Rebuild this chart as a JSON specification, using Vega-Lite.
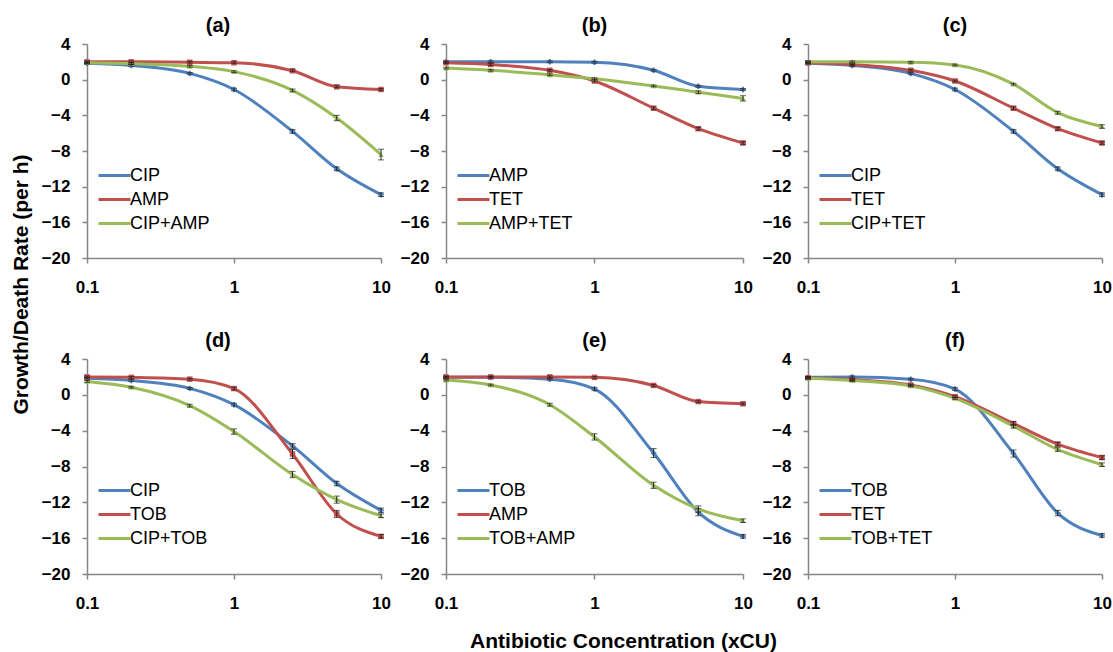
{
  "$schema": "https://vega.github.io/schema/vega-lite/v6.json",
  "background": "white",
  "padding": {"left": 10, "top": 16, "right": 5, "bottom": 5},
  "data": {"values": [
    {"p":"a","s":"CIP","x":0.1,"y":1.85,"e":0.1},{"p":"a","s":"CIP","x":0.2,"y":1.6,"e":0.1},{"p":"a","s":"CIP","x":0.5,"y":0.7,"e":0.1},{"p":"a","s":"CIP","x":1,"y":-1.1,"e":0.15},{"p":"a","s":"CIP","x":2.5,"y":-5.8,"e":0.2},{"p":"a","s":"CIP","x":5,"y":-10.0,"e":0.2},{"p":"a","s":"CIP","x":10,"y":-12.9,"e":0.2},
    {"p":"a","s":"AMP","x":0.1,"y":2.0,"e":0.1},{"p":"a","s":"AMP","x":0.2,"y":2.0,"e":0.1},{"p":"a","s":"AMP","x":0.5,"y":1.95,"e":0.1},{"p":"a","s":"AMP","x":1,"y":1.9,"e":0.1},{"p":"a","s":"AMP","x":2.5,"y":1.0,"e":0.1},{"p":"a","s":"AMP","x":5,"y":-0.8,"e":0.1},{"p":"a","s":"AMP","x":10,"y":-1.1,"e":0.1},
    {"p":"a","s":"CIP+AMP","x":0.1,"y":1.9,"e":0.1},{"p":"a","s":"CIP+AMP","x":0.2,"y":1.8,"e":0.1},{"p":"a","s":"CIP+AMP","x":0.5,"y":1.5,"e":0.1},{"p":"a","s":"CIP+AMP","x":1,"y":0.9,"e":0.1},{"p":"a","s":"CIP+AMP","x":2.5,"y":-1.2,"e":0.15},{"p":"a","s":"CIP+AMP","x":5,"y":-4.3,"e":0.3},{"p":"a","s":"CIP+AMP","x":10,"y":-8.4,"e":0.6},
    {"p":"b","s":"AMP","x":0.1,"y":2.0,"e":0.1},{"p":"b","s":"AMP","x":0.2,"y":2.0,"e":0.1},{"p":"b","s":"AMP","x":0.5,"y":2.0,"e":0.1},{"p":"b","s":"AMP","x":1,"y":1.95,"e":0.1},{"p":"b","s":"AMP","x":2.5,"y":1.05,"e":0.1},{"p":"b","s":"AMP","x":5,"y":-0.75,"e":0.1},{"p":"b","s":"AMP","x":10,"y":-1.1,"e":0.1},
    {"p":"b","s":"TET","x":0.1,"y":1.9,"e":0.1},{"p":"b","s":"TET","x":0.2,"y":1.7,"e":0.1},{"p":"b","s":"TET","x":0.5,"y":1.05,"e":0.1},{"p":"b","s":"TET","x":1,"y":-0.15,"e":0.1},{"p":"b","s":"TET","x":2.5,"y":-3.2,"e":0.15},{"p":"b","s":"TET","x":5,"y":-5.5,"e":0.15},{"p":"b","s":"TET","x":10,"y":-7.1,"e":0.15},
    {"p":"b","s":"AMP+TET","x":0.1,"y":1.3,"e":0.1},{"p":"b","s":"AMP+TET","x":0.2,"y":1.05,"e":0.1},{"p":"b","s":"AMP+TET","x":0.5,"y":0.55,"e":0.1},{"p":"b","s":"AMP+TET","x":1,"y":0.1,"e":0.1},{"p":"b","s":"AMP+TET","x":2.5,"y":-0.7,"e":0.1},{"p":"b","s":"AMP+TET","x":5,"y":-1.4,"e":0.15},{"p":"b","s":"AMP+TET","x":10,"y":-2.1,"e":0.3},
    {"p":"c","s":"CIP","x":0.1,"y":1.85,"e":0.1},{"p":"c","s":"CIP","x":0.2,"y":1.6,"e":0.1},{"p":"c","s":"CIP","x":0.5,"y":0.7,"e":0.1},{"p":"c","s":"CIP","x":1,"y":-1.1,"e":0.15},{"p":"c","s":"CIP","x":2.5,"y":-5.8,"e":0.2},{"p":"c","s":"CIP","x":5,"y":-10.0,"e":0.2},{"p":"c","s":"CIP","x":10,"y":-12.9,"e":0.2},
    {"p":"c","s":"TET","x":0.1,"y":1.9,"e":0.1},{"p":"c","s":"TET","x":0.2,"y":1.7,"e":0.1},{"p":"c","s":"TET","x":0.5,"y":1.05,"e":0.1},{"p":"c","s":"TET","x":1,"y":-0.15,"e":0.1},{"p":"c","s":"TET","x":2.5,"y":-3.2,"e":0.15},{"p":"c","s":"TET","x":5,"y":-5.5,"e":0.15},{"p":"c","s":"TET","x":10,"y":-7.1,"e":0.15},
    {"p":"c","s":"CIP+TET","x":0.1,"y":2.0,"e":0.1},{"p":"c","s":"CIP+TET","x":0.2,"y":2.0,"e":0.1},{"p":"c","s":"CIP+TET","x":0.5,"y":1.95,"e":0.1},{"p":"c","s":"CIP+TET","x":1,"y":1.65,"e":0.1},{"p":"c","s":"CIP+TET","x":2.5,"y":-0.5,"e":0.1},{"p":"c","s":"CIP+TET","x":5,"y":-3.7,"e":0.15},{"p":"c","s":"CIP+TET","x":10,"y":-5.25,"e":0.2},
    {"p":"d","s":"CIP","x":0.1,"y":1.85,"e":0.1},{"p":"d","s":"CIP","x":0.2,"y":1.6,"e":0.1},{"p":"d","s":"CIP","x":0.5,"y":0.72,"e":0.1},{"p":"d","s":"CIP","x":1,"y":-1.1,"e":0.15},{"p":"d","s":"CIP","x":2.5,"y":-5.7,"e":0.25},{"p":"d","s":"CIP","x":5,"y":-9.9,"e":0.25},{"p":"d","s":"CIP","x":10,"y":-12.9,"e":0.25},
    {"p":"d","s":"TOB","x":0.1,"y":2.0,"e":0.1},{"p":"d","s":"TOB","x":0.2,"y":1.95,"e":0.1},{"p":"d","s":"TOB","x":0.5,"y":1.75,"e":0.1},{"p":"d","s":"TOB","x":1,"y":0.7,"e":0.15},{"p":"d","s":"TOB","x":2.5,"y":-6.6,"e":0.5},{"p":"d","s":"TOB","x":5,"y":-13.3,"e":0.4},{"p":"d","s":"TOB","x":10,"y":-15.8,"e":0.2},
    {"p":"d","s":"CIP+TOB","x":0.1,"y":1.5,"e":0.1},{"p":"d","s":"CIP+TOB","x":0.2,"y":0.85,"e":0.1},{"p":"d","s":"CIP+TOB","x":0.5,"y":-1.2,"e":0.15},{"p":"d","s":"CIP+TOB","x":1,"y":-4.1,"e":0.3},{"p":"d","s":"CIP+TOB","x":2.5,"y":-8.9,"e":0.35},{"p":"d","s":"CIP+TOB","x":5,"y":-11.7,"e":0.4},{"p":"d","s":"CIP+TOB","x":10,"y":-13.5,"e":0.2},
    {"p":"e","s":"TOB","x":0.1,"y":1.95,"e":0.1},{"p":"e","s":"TOB","x":0.2,"y":1.95,"e":0.1},{"p":"e","s":"TOB","x":0.5,"y":1.75,"e":0.1},{"p":"e","s":"TOB","x":1,"y":0.65,"e":0.15},{"p":"e","s":"TOB","x":2.5,"y":-6.5,"e":0.5},{"p":"e","s":"TOB","x":5,"y":-13.1,"e":0.4},{"p":"e","s":"TOB","x":10,"y":-15.8,"e":0.2},
    {"p":"e","s":"AMP","x":0.1,"y":2.0,"e":0.1},{"p":"e","s":"AMP","x":0.2,"y":2.0,"e":0.1},{"p":"e","s":"AMP","x":0.5,"y":2.0,"e":0.1},{"p":"e","s":"AMP","x":1,"y":1.95,"e":0.1},{"p":"e","s":"AMP","x":2.5,"y":1.05,"e":0.1},{"p":"e","s":"AMP","x":5,"y":-0.75,"e":0.1},{"p":"e","s":"AMP","x":10,"y":-1.0,"e":0.1},
    {"p":"e","s":"TOB+AMP","x":0.1,"y":1.65,"e":0.1},{"p":"e","s":"TOB+AMP","x":0.2,"y":1.1,"e":0.1},{"p":"e","s":"TOB+AMP","x":0.5,"y":-1.1,"e":0.15},{"p":"e","s":"TOB+AMP","x":1,"y":-4.7,"e":0.35},{"p":"e","s":"TOB+AMP","x":2.5,"y":-10.1,"e":0.35},{"p":"e","s":"TOB+AMP","x":5,"y":-12.75,"e":0.35},{"p":"e","s":"TOB+AMP","x":10,"y":-14.05,"e":0.2},
    {"p":"f","s":"TOB","x":0.1,"y":1.95,"e":0.1},{"p":"f","s":"TOB","x":0.2,"y":2.0,"e":0.1},{"p":"f","s":"TOB","x":0.5,"y":1.75,"e":0.1},{"p":"f","s":"TOB","x":1,"y":0.65,"e":0.15},{"p":"f","s":"TOB","x":2.5,"y":-6.55,"e":0.4},{"p":"f","s":"TOB","x":5,"y":-13.2,"e":0.3},{"p":"f","s":"TOB","x":10,"y":-15.7,"e":0.2},
    {"p":"f","s":"TET","x":0.1,"y":1.9,"e":0.1},{"p":"f","s":"TET","x":0.2,"y":1.7,"e":0.1},{"p":"f","s":"TET","x":0.5,"y":1.1,"e":0.1},{"p":"f","s":"TET","x":1,"y":-0.2,"e":0.1},{"p":"f","s":"TET","x":2.5,"y":-3.2,"e":0.2},{"p":"f","s":"TET","x":5,"y":-5.5,"e":0.2},{"p":"f","s":"TET","x":10,"y":-7.0,"e":0.2},
    {"p":"f","s":"TOB+TET","x":0.1,"y":1.85,"e":0.1},{"p":"f","s":"TOB+TET","x":0.2,"y":1.6,"e":0.1},{"p":"f","s":"TOB+TET","x":0.5,"y":1.0,"e":0.1},{"p":"f","s":"TOB+TET","x":1,"y":-0.4,"e":0.1},{"p":"f","s":"TOB+TET","x":2.5,"y":-3.5,"e":0.2},{"p":"f","s":"TOB+TET","x":5,"y":-6.1,"e":0.2},{"p":"f","s":"TOB+TET","x":10,"y":-7.8,"e":0.2}
  ]},
  "columns": 3,
  "spacing": {"row": 101, "column": 65},
  "bounds": "flush",
  "resolve": {"scale": {"color": "independent"}, "legend": {"color": "independent"}},
  "concat": [
    {
      "title": {"text": "(a)", "dx": -16},
      "width": 294, "height": 214,
      "transform": [{"filter": "datum.p === 'a'"}],
      "encoding": {
        "x": {"field": "x", "type": "quantitative", "scale": {"type": "log", "domain": [0.1, 10], "nice": false}, "axis": {"values": [0.1, 1, 10], "format": "~f", "title": null}},
        "y": {"field": "y", "type": "quantitative", "scale": {"domain": [-20, 4], "nice": false, "zero": false}, "axis": {"values": [-20, -16, -12, -8, -4, 0, 4], "title": "Growth/Death Rate (per h)", "titleX": -56, "titleY": 240}},
        "color": {"field": "s", "type": "nominal", "scale": {"domain": ["CIP", "AMP", "CIP+AMP"], "range": ["#4F81BD", "#C0504D", "#9BBB59"]}, "legend": {"title": null}}
      },
      "layer": [
        {"mark": {"type": "line", "interpolate": "monotone", "strokeWidth": 3}},
        {"mark": {"type": "point", "filled": true, "size": 30, "opacity": 1, "shape": {"expr": "datum.s === 'CIP' ? 'cross' : datum.s === 'AMP' ? 'square' : 'triangle-up'"}}},
        {"mark": {"type": "errorbar", "ticks": {"size": 6, "color": "#222"}, "rule": {"color": "#222"}}, "encoding": {"yError": {"field": "e"}, "color": {"value": "#222"}}}
      ]
    },
    {
      "title": {"text": "(b)"},
      "width": 297, "height": 214,
      "transform": [{"filter": "datum.p === 'b'"}],
      "encoding": {
        "x": {"field": "x", "type": "quantitative", "scale": {"type": "log", "domain": [0.1, 10], "nice": false}, "axis": {"values": [0.1, 1, 10], "format": "~f", "title": null}},
        "y": {"field": "y", "type": "quantitative", "scale": {"domain": [-20, 4], "nice": false, "zero": false}, "axis": {"values": [-20, -16, -12, -8, -4, 0, 4], "title": null}},
        "color": {"field": "s", "type": "nominal", "scale": {"domain": ["AMP", "TET", "AMP+TET"], "range": ["#4F81BD", "#C0504D", "#9BBB59"]}, "legend": {"title": null}}
      },
      "layer": [
        {"mark": {"type": "line", "interpolate": "monotone", "strokeWidth": 3}},
        {"mark": {"type": "point", "filled": true, "size": 30, "opacity": 1, "shape": {"expr": "datum.s === 'AMP' ? 'cross' : datum.s === 'TET' ? 'square' : 'triangle-up'"}}},
        {"mark": {"type": "errorbar", "ticks": {"size": 6, "color": "#222"}, "rule": {"color": "#222"}}, "encoding": {"yError": {"field": "e"}, "color": {"value": "#222"}}}
      ]
    },
    {
      "title": {"text": "(c)"},
      "width": 294, "height": 214,
      "transform": [{"filter": "datum.p === 'c'"}],
      "encoding": {
        "x": {"field": "x", "type": "quantitative", "scale": {"type": "log", "domain": [0.1, 10], "nice": false}, "axis": {"values": [0.1, 1, 10], "format": "~f", "title": null}},
        "y": {"field": "y", "type": "quantitative", "scale": {"domain": [-20, 4], "nice": false, "zero": false}, "axis": {"values": [-20, -16, -12, -8, -4, 0, 4], "title": null}},
        "color": {"field": "s", "type": "nominal", "scale": {"domain": ["CIP", "TET", "CIP+TET"], "range": ["#4F81BD", "#C0504D", "#9BBB59"]}, "legend": {"title": null}}
      },
      "layer": [
        {"mark": {"type": "line", "interpolate": "monotone", "strokeWidth": 3}},
        {"mark": {"type": "point", "filled": true, "size": 30, "opacity": 1, "shape": {"expr": "datum.s === 'CIP' ? 'cross' : datum.s === 'TET' ? 'square' : 'triangle-up'"}}},
        {"mark": {"type": "errorbar", "ticks": {"size": 6, "color": "#222"}, "rule": {"color": "#222"}}, "encoding": {"yError": {"field": "e"}, "color": {"value": "#222"}}}
      ]
    },
    {
      "title": {"text": "(d)", "dx": -16},
      "width": 294, "height": 215,
      "transform": [{"filter": "datum.p === 'd'"}],
      "encoding": {
        "x": {"field": "x", "type": "quantitative", "scale": {"type": "log", "domain": [0.1, 10], "nice": false}, "axis": {"values": [0.1, 1, 10], "format": "~f", "title": null}},
        "y": {"field": "y", "type": "quantitative", "scale": {"domain": [-20, 4], "nice": false, "zero": false}, "axis": {"values": [-20, -16, -12, -8, -4, 0, 4], "title": null}},
        "color": {"field": "s", "type": "nominal", "scale": {"domain": ["CIP", "TOB", "CIP+TOB"], "range": ["#4F81BD", "#C0504D", "#9BBB59"]}, "legend": {"title": null}}
      },
      "layer": [
        {"mark": {"type": "line", "interpolate": "monotone", "strokeWidth": 3}},
        {"mark": {"type": "point", "filled": true, "size": 30, "opacity": 1, "shape": {"expr": "datum.s === 'CIP' ? 'cross' : datum.s === 'TOB' ? 'square' : 'triangle-up'"}}},
        {"mark": {"type": "errorbar", "ticks": {"size": 6, "color": "#222"}, "rule": {"color": "#222"}}, "encoding": {"yError": {"field": "e"}, "color": {"value": "#222"}}}
      ]
    },
    {
      "title": {"text": "(e)"},
      "width": 297, "height": 215,
      "transform": [{"filter": "datum.p === 'e'"}],
      "encoding": {
        "x": {"field": "x", "type": "quantitative", "scale": {"type": "log", "domain": [0.1, 10], "nice": false}, "axis": {"values": [0.1, 1, 10], "format": "~f", "title": "Antibiotic Concentration (xCU)", "titleX": 177, "titleY": 56}},
        "y": {"field": "y", "type": "quantitative", "scale": {"domain": [-20, 4], "nice": false, "zero": false}, "axis": {"values": [-20, -16, -12, -8, -4, 0, 4], "title": null}},
        "color": {"field": "s", "type": "nominal", "scale": {"domain": ["TOB", "AMP", "TOB+AMP"], "range": ["#4F81BD", "#C0504D", "#9BBB59"]}, "legend": {"title": null}}
      },
      "layer": [
        {"mark": {"type": "line", "interpolate": "monotone", "strokeWidth": 3}},
        {"mark": {"type": "point", "filled": true, "size": 30, "opacity": 1, "shape": {"expr": "datum.s === 'TOB' ? 'cross' : datum.s === 'AMP' ? 'square' : 'triangle-up'"}}},
        {"mark": {"type": "errorbar", "ticks": {"size": 6, "color": "#222"}, "rule": {"color": "#222"}}, "encoding": {"yError": {"field": "e"}, "color": {"value": "#222"}}}
      ]
    },
    {
      "title": {"text": "(f)"},
      "width": 294, "height": 215,
      "transform": [{"filter": "datum.p === 'f'"}],
      "encoding": {
        "x": {"field": "x", "type": "quantitative", "scale": {"type": "log", "domain": [0.1, 10], "nice": false}, "axis": {"values": [0.1, 1, 10], "format": "~f", "title": null}},
        "y": {"field": "y", "type": "quantitative", "scale": {"domain": [-20, 4], "nice": false, "zero": false}, "axis": {"values": [-20, -16, -12, -8, -4, 0, 4], "title": null}},
        "color": {"field": "s", "type": "nominal", "scale": {"domain": ["TOB", "TET", "TOB+TET"], "range": ["#4F81BD", "#C0504D", "#9BBB59"]}, "legend": {"title": null}}
      },
      "layer": [
        {"mark": {"type": "line", "interpolate": "monotone", "strokeWidth": 3}},
        {"mark": {"type": "point", "filled": true, "size": 30, "opacity": 1, "shape": {"expr": "datum.s === 'TOB' ? 'cross' : datum.s === 'TET' ? 'square' : 'triangle-up'"}}},
        {"mark": {"type": "errorbar", "ticks": {"size": 6, "color": "#222"}, "rule": {"color": "#222"}}, "encoding": {"yError": {"field": "e"}, "color": {"value": "#222"}}}
      ]
    }
  ],
  "config": {
    "view": {"stroke": null},
    "font": "Liberation Sans",
    "title": {"font": "Liberation Sans", "fontSize": 20, "fontWeight": "bold", "color": "#000", "offset": -1, "anchor": "middle"},
    "axis": {"labelFont": "Liberation Sans", "labelFontSize": 17, "labelFontWeight": "bold", "labelColor": "#000", "labelFlush": false, "labelOverlap": false, "domainColor": "#868686", "domainWidth": 1.5, "tickColor": "#868686", "tickWidth": 1.5, "tickSize": 5, "grid": false, "titleFont": "Liberation Sans", "titleFontSize": 21, "titleFontWeight": "bold", "titleColor": "#000"},
    "axisX": {"labelPadding": 16},
    "axisY": {"labelPadding": 12},
    "legend": {"orient": "none", "legendX": 18, "legendY": 122, "symbolType": "M-2,0H2", "symbolStrokeWidth": 3, "symbolSize": 256, "labelFont": "Liberation Sans", "labelFontSize": 18, "labelColor": "#000", "labelOffset": 6, "rowPadding": 5, "padding": 0}
  }
}
